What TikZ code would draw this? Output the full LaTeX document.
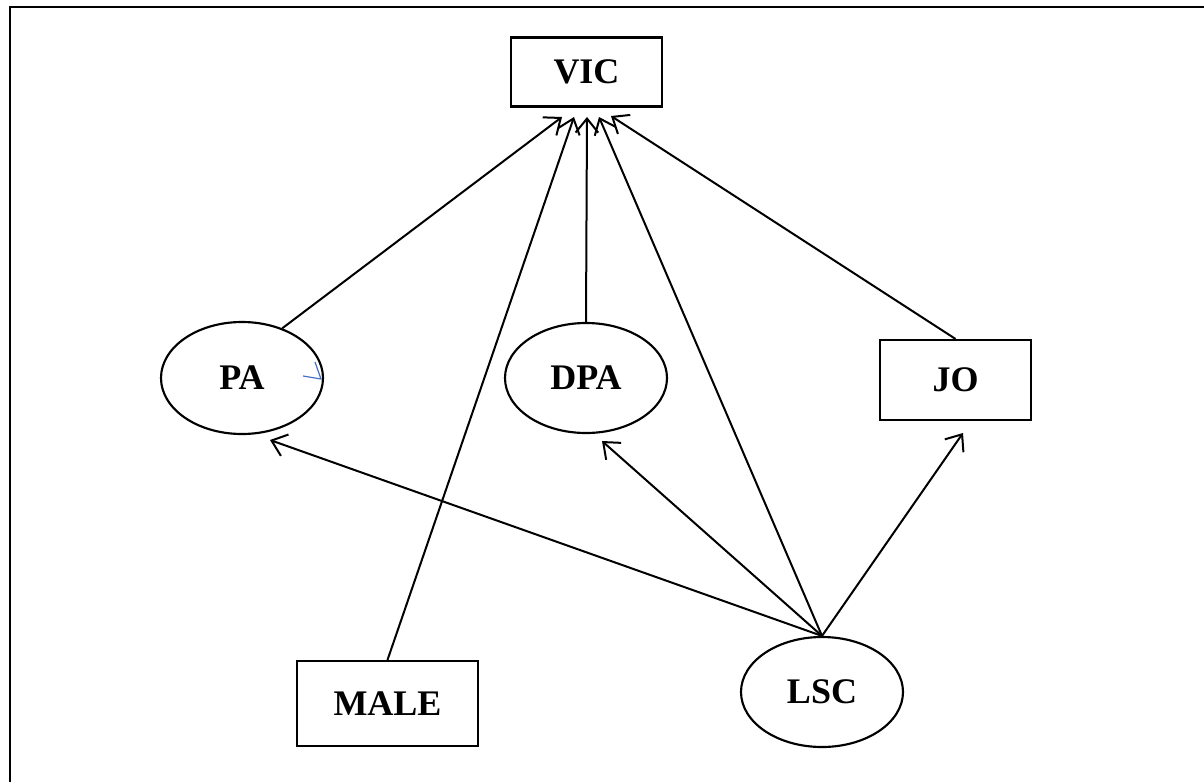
\documentclass[tikz,border=0pt]{standalone}
\usepackage{fontspec}
\setmainfont{Liberation Serif}
\usetikzlibrary{arrows.meta,shapes.geometric}

\tikzset{
  lbl/.style={font=\fontsize{27}{32}\selectfont\bfseries, inner sep=0pt},
  boxnode/.style={lbl, draw, line width=1.6pt, rectangle},
  ellnode/.style={lbl, draw, line width=1.6pt, ellipse},
  link/.style={line width=1.5pt, -{Straight Barb[length=10.5pt,width=17pt,line width=1.5pt]}},
  frameline/.style={line width=1.5pt},
}
\definecolor{strayblue}{RGB}{68,114,196}

\begin{document}
\begin{tikzpicture}[x=0.75pt,y=-0.75pt]
  \useasboundingbox (0,0) rectangle (1204,782);

  % open frame: top and left edges only
  \draw[frameline] (10,782) -- (10,7) -- (1204,7);

  % nodes
  \node[boxnode, minimum width=151*0.75pt, minimum height=69*0.75pt] (vic) at (586.5,72) {VIC};
  \node[ellnode, minimum width=162*0.75pt, minimum height=112*0.75pt] (pa) at (242,378) {PA};
  \node[ellnode, minimum width=162*0.75pt, minimum height=110*0.75pt] (dpa) at (586,378) {DPA};
  \node[boxnode, minimum width=151*0.75pt, minimum height=80*0.75pt] (jo) at (955.5,380) {JO};
  \node[boxnode, minimum width=181*0.75pt, minimum height=85*0.75pt] (male) at (387.5,703.5) {MALE};
  \node[ellnode, minimum width=162*0.75pt, minimum height=110*0.75pt] (lsc) at (822,692) {LSC};

  % arrow tips gathered under VIC
  \coordinate (v1) at (562,117);
  \coordinate (v2) at (574,117);
  \coordinate (v3) at (587,117);
  \coordinate (v4) at (599,117);
  \coordinate (v5) at (611,116);

  % arrow tips near the targets of LSC
  \coordinate (paTip) at (270,440);
  \coordinate (dpaTip) at (602,441);
  \coordinate (joTip) at (963,433);

  % connectors into VIC
  \draw[link] (pa.51) -- (v1);
  \draw[link] (male.north) -- (v2);
  \draw[link] (dpa.north) -- (v3);
  \draw[link] (lsc.north) -- (v4);
  \draw[link] (jo.north) -- (v5);

  % connectors out of LSC
  \draw[link] (lsc.north) -- (paTip);
  \draw[link] (lsc.north) -- (dpaTip);
  \draw[link] (lsc.north) -- (joTip);

  % small blue pen stroke inside PA
  \draw[strayblue, line width=0.9pt] (303,376) -- (321,379) -- (315,362);
\end{tikzpicture}
\end{document}
